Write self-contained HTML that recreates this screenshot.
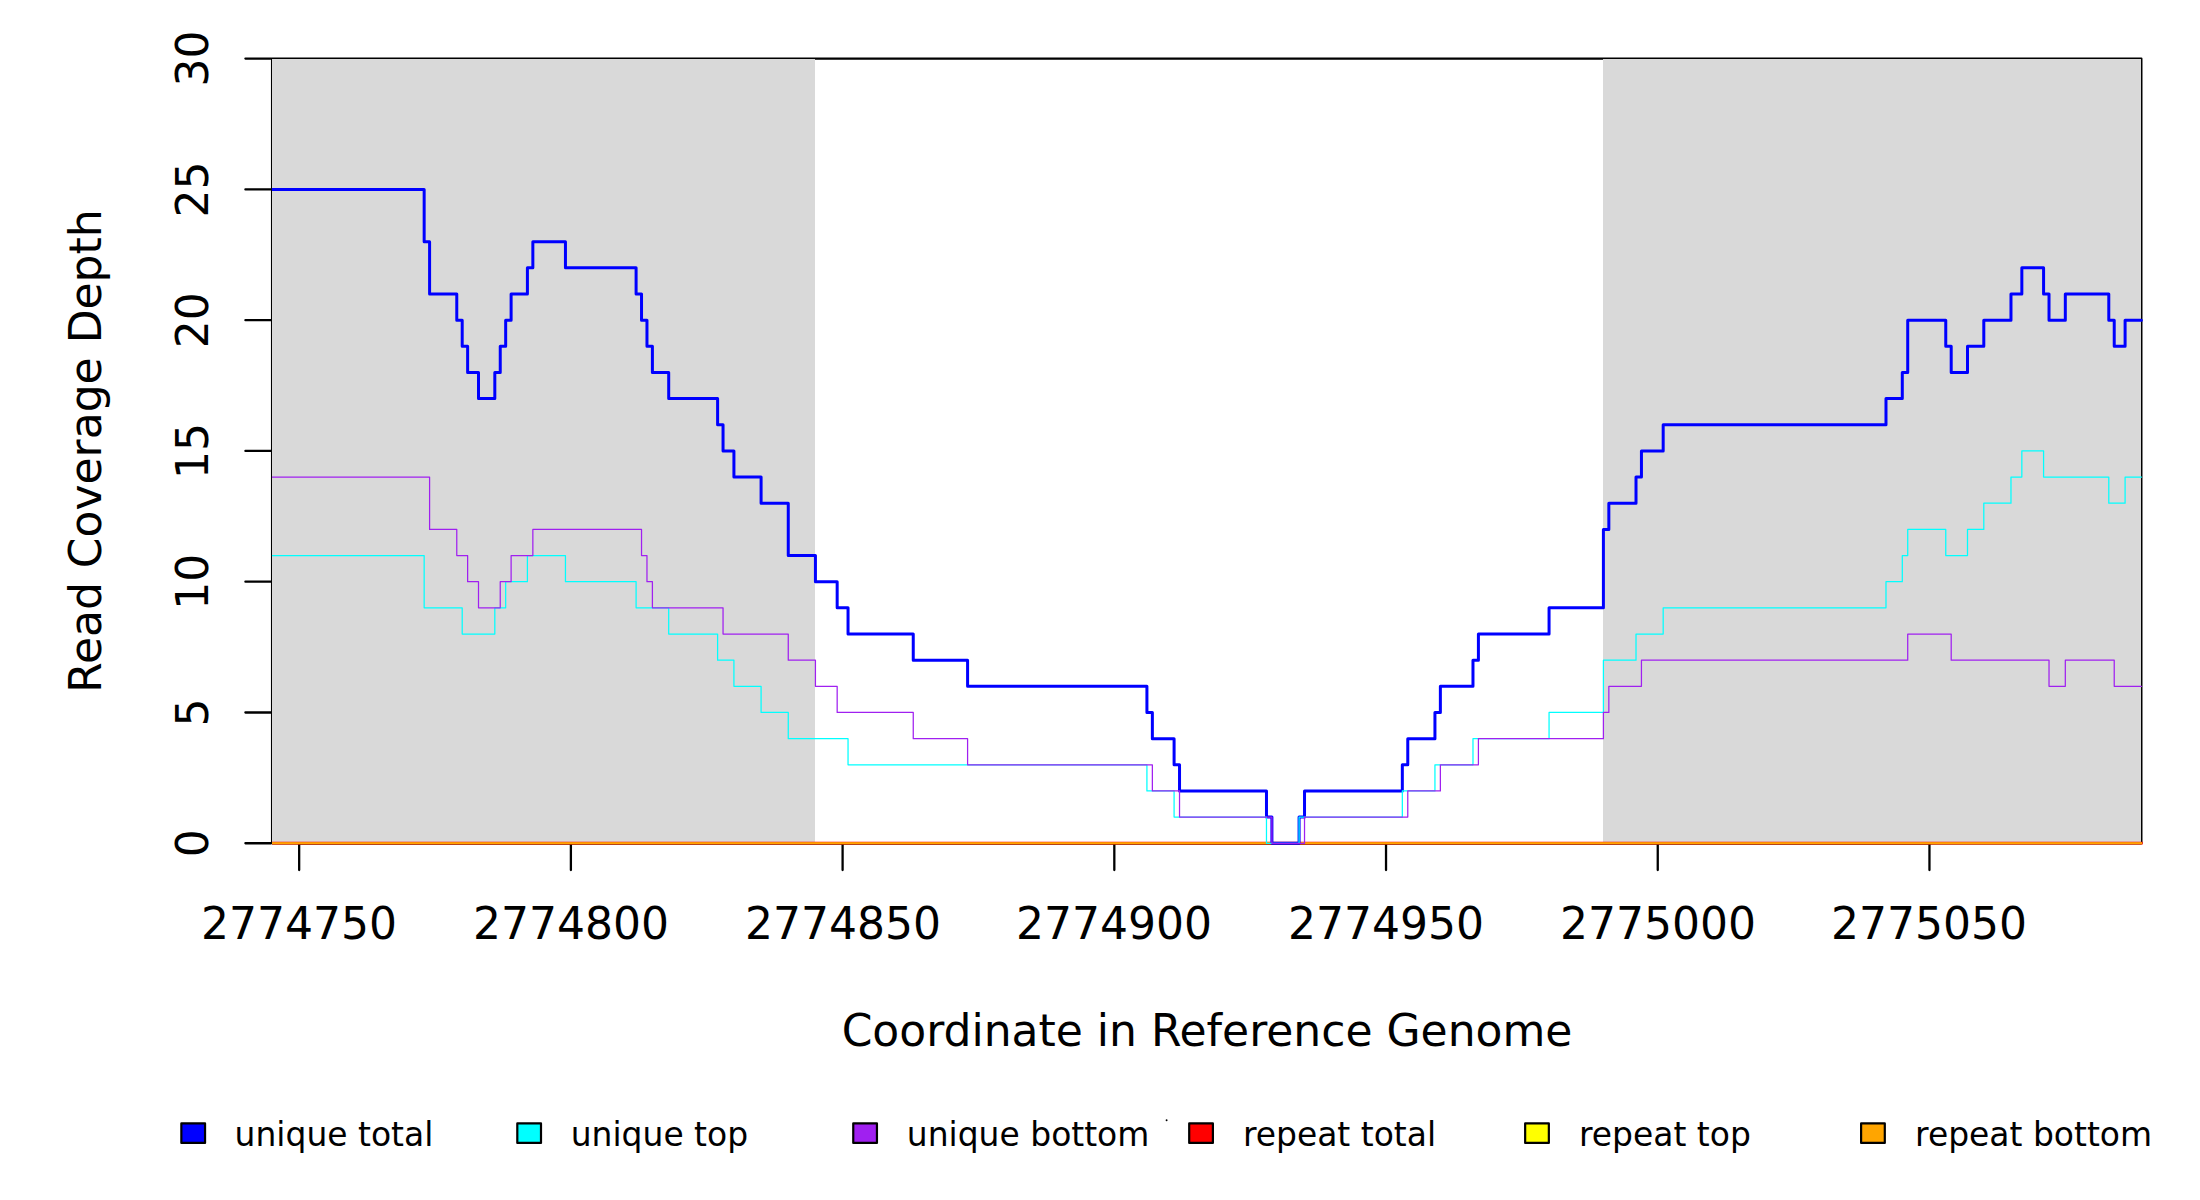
<!DOCTYPE html>
<html lang="en"><head><meta charset="utf-8"><title>Read Coverage Depth</title>
<style>html,body{margin:0;padding:0;background:#fff}svg{display:block}text{font-family:"DejaVu Sans","Liberation Sans",sans-serif;fill:#000}</style></head><body>
<svg width="2200" height="1200" viewBox="0 0 2200 1200">
<rect width="2200" height="1200" fill="#fff"/>
<rect x="272.1" y="58.6" width="1869.25" height="784.65" fill="none" stroke="#000" stroke-width="2.29" stroke-linejoin="round"/>
<g fill="#d9d9d9" shape-rendering="crispEdges"><rect x="272" y="59" width="543" height="784"/><rect x="1603" y="59" width="538" height="784"/></g>
<g stroke="#000" stroke-width="2.29" stroke-linecap="round" fill="none">
<path d="M299.17 843.25H1929.46"/>
<path d="M245.40 843.25H270.90"/>
<path d="M245.40 712.48H270.90"/>
<path d="M245.40 581.70H270.90"/>
<path d="M245.40 450.92H270.90"/>
<path d="M245.40 320.15H270.90"/>
<path d="M245.40 189.38H270.90"/>
<path d="M245.40 58.60H270.90"/>
<path d="M299.17 843.25V870.00"/>
<path d="M570.89 843.25V870.00"/>
<path d="M842.60 843.25V870.00"/>
<path d="M1114.32 843.25V870.00"/>
<path d="M1386.03 843.25V870.00"/>
<path d="M1657.75 843.25V870.00"/>
<path d="M1929.46 843.25V870.00"/>
</g>
<defs><clipPath id="pc"><rect x="271.9" y="57.5" width="1871.30" height="787.50"/></clipPath></defs>
<g clip-path="url(#pc)" fill="none" stroke-linejoin="round" stroke-linecap="round">
<path d="M272.00 843.12H2142.70" stroke="#ff0000" stroke-width="2.95" stroke-linecap="butt"/>
<path d="M272.00 843.25H2141.40" stroke="#ffff00" stroke-width="1.2" stroke-linecap="butt"/>
<path d="M272.00 843.22H2142.10" stroke="#ffa500" stroke-width="2.15" stroke-linecap="butt"/>
<path d="M272.00 189.38H424.16V241.68H429.59V294.00H456.77V320.15H462.20V346.30H467.63V372.46H478.50V398.62H494.81V372.46H500.24V346.30H505.67V320.15H511.11V294.00H527.41V267.84H532.85V241.68H565.45V267.84H636.10V294.00H641.53V320.15H646.97V346.30H652.40V372.46H668.70V398.62H717.61V424.77H723.05V450.92H733.92V477.08H761.09V503.24H788.26V555.54H815.43V581.70H837.17V607.86H848.04V634.01H913.25V660.16H967.59V686.32H1146.92V712.48H1152.36V738.63H1174.09V764.78H1179.53V790.94H1266.48V817.10H1271.91V843.25H1299.08V817.10H1304.52V790.94H1402.33V764.78H1407.77V738.63H1434.94V712.48H1440.37V686.32H1472.98V660.16H1478.41V634.01H1549.06V607.86H1603.40V529.39H1608.84V503.24H1636.01V477.08H1641.44V450.92H1663.18V424.77H1885.99V398.62H1902.29V372.46H1907.72V320.15H1945.76V346.30H1951.20V372.46H1967.50V346.30H1983.80V320.15H2010.98V294.00H2021.84V267.84H2043.58V294.00H2049.02V320.15H2065.32V294.00H2108.79V320.15H2114.23V346.30H2125.10V320.15H2141.40" stroke="#0000ff" stroke-width="3"/>
<path d="M272.00 555.54H424.16V607.86H462.20V634.01H494.81V607.86H505.67V581.70H527.41V555.54H565.45V581.70H636.10V607.86H668.70V634.01H717.61V660.16H733.92V686.32H761.09V712.48H788.26V738.63H848.04V764.78H1146.92V790.94H1174.09V817.10H1266.48V843.25H1299.08V817.10H1402.33V790.94H1434.94V764.78H1472.98V738.63H1549.06V712.48H1603.40V660.16H1636.01V634.01H1663.18V607.86H1885.99V581.70H1902.29V555.54H1907.72V529.39H1945.76V555.54H1967.50V529.39H1983.80V503.24H2010.98V477.08H2021.84V450.92H2043.58V477.08H2108.79V503.24H2125.10V477.08H2141.40" stroke="#00ffff" stroke-width="1.25"/>
<path d="M272.00 477.08H429.59V529.39H456.77V555.54H467.63V581.70H478.50V607.86H500.24V581.70H511.11V555.54H532.85V529.39H641.53V555.54H646.97V581.70H652.40V607.86H723.05V634.01H788.26V660.16H815.43V686.32H837.17V712.48H913.25V738.63H967.59V764.78H1152.36V790.94H1179.53V817.10H1271.91V843.25H1304.52V817.10H1407.77V790.94H1440.37V764.78H1478.41V738.63H1603.40V712.48H1608.84V686.32H1641.44V660.16H1907.72V634.01H1951.20V660.16H2049.02V686.32H2065.32V660.16H2114.23V686.32H2141.40" stroke="#a020f0" stroke-width="1.25"/>
</g>
<g font-size="44">
<text x="201" y="938.6">2774750</text>
<text x="473" y="938.6">2774800</text>
<text x="745" y="938.6">2774850</text>
<text x="1016" y="938.6">2774900</text>
<text x="1288" y="938.6">2774950</text>
<text x="1560" y="938.6">2775000</text>
<text x="1831" y="938.6">2775050</text>
</g>
<g font-size="44" text-anchor="middle">
<text transform="translate(208 843.25) rotate(-90)">0</text>
<text transform="translate(208 712.48) rotate(-90)">5</text>
<text transform="translate(208 581.70) rotate(-90)">10</text>
<text transform="translate(208 450.92) rotate(-90)">15</text>
<text transform="translate(208 320.15) rotate(-90)">20</text>
<text transform="translate(208 189.38) rotate(-90)">25</text>
<text transform="translate(208 58.60) rotate(-90)">30</text>
</g>
<text font-size="44" text-anchor="middle" transform="translate(101 451) rotate(-90)">Read Coverage Depth</text>
<text font-size="44" text-anchor="middle" x="1207" y="1046">Coordinate in Reference Genome</text>
<g font-size="34">
<rect x="181.35" y="1123.4" width="23.7" height="19.5" fill="#0000ff" stroke="#000" stroke-width="2.2" stroke-linejoin="round"/>
<text transform="translate(234.60 1146) scale(0.969 1)">unique total</text>
<rect x="517.30" y="1123.4" width="23.7" height="19.5" fill="#00ffff" stroke="#000" stroke-width="2.2" stroke-linejoin="round"/>
<text transform="translate(570.70 1146) scale(0.969 1)">unique top</text>
<rect x="853.25" y="1123.4" width="23.7" height="19.5" fill="#a020f0" stroke="#000" stroke-width="2.2" stroke-linejoin="round"/>
<text transform="translate(906.80 1146) scale(0.969 1)">unique bottom</text>
<rect x="1189.20" y="1123.4" width="23.7" height="19.5" fill="#ff0000" stroke="#000" stroke-width="2.2" stroke-linejoin="round"/>
<text transform="translate(1242.90 1146) scale(0.969 1)">repeat total</text>
<rect x="1525.15" y="1123.4" width="23.7" height="19.5" fill="#ffff00" stroke="#000" stroke-width="2.2" stroke-linejoin="round"/>
<text transform="translate(1579.00 1146) scale(0.969 1)">repeat top</text>
<rect x="1861.10" y="1123.4" width="23.7" height="19.5" fill="#ffa500" stroke="#000" stroke-width="2.2" stroke-linejoin="round"/>
<text transform="translate(1915.10 1146) scale(0.969 1)">repeat bottom</text>
</g>
<circle cx="1166.6" cy="1120.3" r="0.95" fill="#000"/>
</svg></body></html>
